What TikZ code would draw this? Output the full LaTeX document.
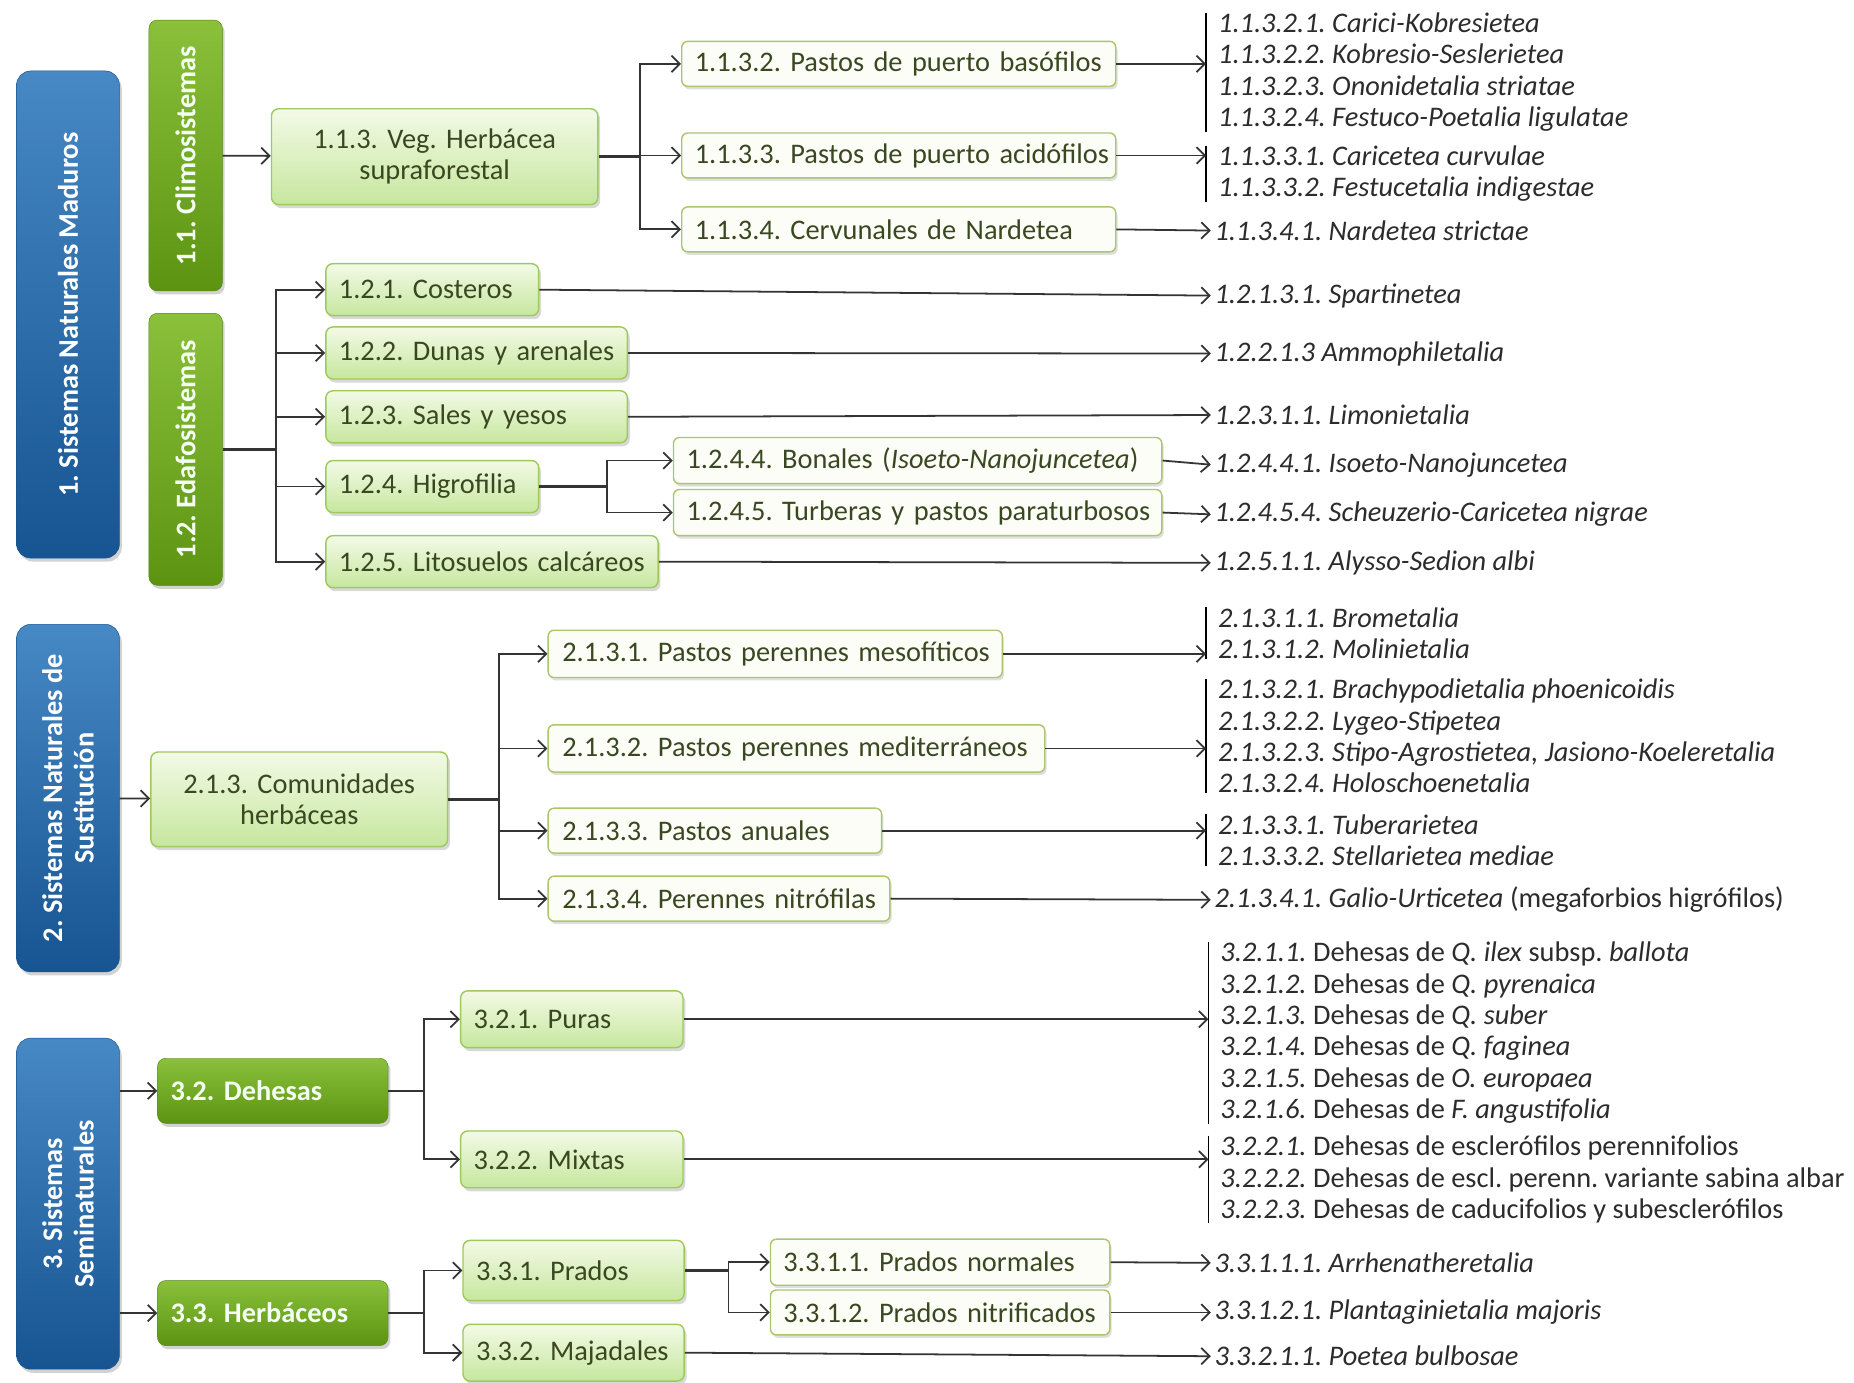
\documentclass[tikz,border=0pt]{standalone}
\usepackage{fontspec}
\setmainfont{Carlito}
\usetikzlibrary{arrows.meta,shadows}
\frenchspacing

\definecolor{sysblue}{RGB}{38,116,186}
\definecolor{sysbluedark}{RGB}{22,84,146}
\definecolor{grndarktop}{RGB}{138,192,58}
\definecolor{grndarkbot}{RGB}{92,148,18}
\definecolor{grndarkline}{RGB}{84,132,20}
\definecolor{grnlighttop}{RGB}{243,250,230}
\definecolor{grnlightbot}{RGB}{198,231,158}
\definecolor{grnlightline}{RGB}{158,202,92}
\definecolor{leaffill}{RGB}{252,253,246}
\definecolor{leafline}{RGB}{172,198,108}
\definecolor{boxtext}{RGB}{58,72,34}
\definecolor{taxtext}{RGB}{44,44,44}
\definecolor{linecol}{RGB}{52,52,52}

\newcommand\diafont{\fontsize{24}{26.5}\selectfont}

\begin{document}
\begin{tikzpicture}[x=1pt, y=-1pt, >={Straight Barb[length=7pt,width=14pt]},
    sys box/.style={rotate=90, draw=sysbluedark, top color=sysblue!85!white, bottom color=sysbluedark,
        rounded corners=12pt, font=\diafont\bfseries, text=white, align=center, minimum height=87pt,
        drop shadow={shadow xshift=2pt, shadow yshift=-3pt, opacity=0.35}},
    dark box/.style={draw=grndarkline, top color=grndarktop, bottom color=grndarkbot, rounded corners=7pt,
        font=\diafont\bfseries, text=green!4!white, inner xsep=11pt, align=left,
        drop shadow={shadow xshift=2pt, shadow yshift=-3pt, opacity=0.35}},
    one line/.style={execute at begin node=\hbox\bgroup, execute at end node=\egroup},
    light/.style={draw=grnlightline, line width=1.2pt, top color=grnlighttop, bottom color=grnlightbot,
        rounded corners=6pt, text=boxtext, inner xsep=11pt, anchor=west,
        drop shadow={shadow xshift=2pt, shadow yshift=-3pt, opacity=0.3}},
    light box/.style={light, align=left, one line},
    leaf box/.style={draw=leafline, line width=1.2pt, fill=leaffill, rounded corners=5pt, text=boxtext,
        inner xsep=11pt, align=left, anchor=west, one line,
        drop shadow={shadow xshift=1.5pt, shadow yshift=-2.5pt, opacity=0.25}},
    taxa group/.style={anchor=west, inner xsep=10pt, inner ysep=0pt, align=left, text=taxtext, font=\diafont\itshape},
    taxon/.style={anchor=west, inner xsep=3pt, inner ysep=0pt, text=taxtext, font=\diafont\itshape},
    arr/.style={->, draw=linecol, line width=1.5pt},
    trunk/.style={draw=linecol, line width=2.8pt},
    bracket/.style={draw=black, line width=1.2pt}]
    \tikzstyle{every node}=[font=\diafont]

    \fill[white] (0,0) rectangle (1568,1169);
    \useasboundingbox (0,0) rectangle (1568,1169);

    % sistemas
    \node[sys box, minimum width=412pt] (sys1) at (57.5,266) {1. Sistemas Naturales Maduros};
    \node[sys box, minimum width=294pt] (sys2) at (57.5,675) {2. Sistemas Naturales de\\Sustitución};
    \node[sys box, minimum width=280pt] (sys3) at (57.5,1018) {3. Sistemas\\Seminaturales};

    \node[dark box, rotate=90, align=center, minimum width=229pt, minimum height=62pt] (climo) at (157,131.5) {1.1. Climosistemas};
    \node[dark box, rotate=90, align=center, minimum width=230pt, minimum height=62pt] (edafo) at (157,380) {1.2. Edafosistemas};
    \node[dark box, anchor=west, text width=173pt, minimum height=55pt] (dehesas) at (133,922.5) {3.2. Dehesas};
    \node[dark box, anchor=west, text width=173pt, minimum height=55pt] (herbaceos) at (133,1110.5) {3.3. Herbáceos};

    % 1.1
    \node[light, align=center, text width=254pt, minimum height=81pt] (veg) at (229,132.5) {1.1.3. Veg. Herbácea\\supraforestal};
    \node[leaf box, text width=345pt, minimum height=38pt] (b1132) at (576,54) {1.1.3.2. Pastos de puerto basófilos};
    \node[leaf box, text width=345pt, minimum height=38pt] (b1133) at (576,131.5) {1.1.3.3. Pastos de puerto acidófilos};
    \node[leaf box, text width=345pt, minimum height=38pt] (b1134) at (576,194) {1.1.3.4. Cervunales de Nardetea};

    % 1.2
    \node[light box, text width=158pt, minimum height=44pt] (costeros) at (275,245) {1.2.1. Costeros};
    \node[light box, text width=233pt, minimum height=44pt] (dunas) at (275,298.5) {1.2.2. Dunas y arenales};
    \node[light box, text width=233pt, minimum height=44pt] (sales) at (275,352.5) {1.2.3. Sales y yesos};
    \node[light box, text width=158pt, minimum height=44pt] (higro) at (275,411.5) {1.2.4. Higrofilia};
    \node[light box, text width=259pt, minimum height=44pt] (lito) at (275,475) {1.2.5. Litosuelos calcáreos};
    \node[leaf box, text width=391pt, minimum height=39pt] (bonales) at (569,389.5) {1.2.4.4. Bonales (\textit{Isoeto-Nanojuncetea})};
    \node[leaf box, text width=391pt, minimum height=39pt] (turberas) at (569,433.5) {1.2.4.5. Turberas y pastos paraturbosos};

    % 2.1
    \node[light, align=center, text width=229pt, minimum height=80pt] (comun) at (127,676) {2.1.3. Comunidades\\herbáceas};
    \node[leaf box, text width=360pt, inner xsep=12pt, minimum height=40pt] (b2131) at (463,553) {2.1.3.1. Pastos perennes mesofíticos};
    \node[leaf box, text width=396pt, inner xsep=12pt, minimum height=40pt] (b2132) at (463,633) {2.1.3.2. Pastos perennes mediterráneos};
    \node[leaf box, text width=258pt, inner xsep=12pt, minimum height=38pt] (b2133) at (463,702.5) {2.1.3.3. Pastos anuales};
    \node[leaf box, text width=265pt, inner xsep=12pt, minimum height=38pt] (b2134) at (463,760) {2.1.3.4. Perennes nitrófilas};

    % 3.2 y 3.3
    \node[light box, text width=166pt, minimum height=48pt] (puras) at (389,862) {3.2.1. Puras};
    \node[light box, text width=166pt, minimum height=48pt] (mixtas) at (389,980.5) {3.2.2. Mixtas};
    \node[light box, text width=165pt, minimum height=51pt] (prados) at (391,1074.5) {3.3.1. Prados};
    \node[light box, text width=165pt, minimum height=48pt] (majadales) at (391,1144) {3.3.2. Majadales};
    \node[leaf box, text width=265pt, minimum height=39pt] (normales) at (651,1067.5) {3.3.1.1. Prados normales};
    \node[leaf box, text width=265pt, minimum height=38pt] (nitrif) at (651,1110) {3.3.1.2. Prados nitrificados};

    % sintaxones
    \node[taxa group] (t1132) at (1020,61) {1.1.3.2.1. Carici-Kobresietea\\1.1.3.2.2. Kobresio-Seslerietea\\1.1.3.2.3. Ononidetalia striatae\\1.1.3.2.4. Festuco-Poetalia ligulatae};
    \node[taxa group] (t1133) at (1020,147) {1.1.3.3.1. Caricetea curvulae\\1.1.3.3.2. Festucetalia indigestae};
    \node[taxon] (t1134) at (1024,195) {1.1.3.4.1. Nardetea strictae};
    \node[taxon] (t1213) at (1024,250) {1.2.1.3.1. Spartinetea};
    \node[taxon] (t1221) at (1024,299) {1.2.2.1.3 Ammophiletalia};
    \node[taxon] (t1231) at (1024,351) {1.2.3.1.1. Limonietalia};
    \node[taxon] (t1244) at (1024,393) {1.2.4.4.1. Isoeto-Nanojuncetea};
    \node[taxon] (t1245) at (1024,435) {1.2.4.5.4. Scheuzerio-Caricetea nigrae};
    \node[taxon] (t1251) at (1024,476) {1.2.5.1.1. Alysso-Sedion albi};
    \node[taxa group] (t2131) at (1020,535.5) {2.1.3.1.1. Brometalia\\2.1.3.1.2. Molinietalia};
    \node[taxa group] (t2132) at (1020,622.5) {2.1.3.2.1. Brachypodietalia phoenicoidis\\2.1.3.2.2. Lygeo-Stipetea\\2.1.3.2.3. Stipo-Agrostietea, Jasiono-Koeleretalia\\2.1.3.2.4. Holoschoenetalia};
    \node[taxa group] (t2133) at (1020,710.5) {2.1.3.3.1. Tuberarietea\\2.1.3.3.2. Stellarietea mediae};
    \node[taxon] (t2134) at (1024,761) {2.1.3.4.1. Galio-Urticetea \textup{(megaforbios higrófilos)}};
    \node[taxa group] (t321) at (1022,873.5) {3.2.1.1. \textup{Dehesas de} Q. ilex \textup{subsp.} ballota\\
        3.2.1.2. \textup{Dehesas de} Q. pyrenaica\\3.2.1.3. \textup{Dehesas de} Q. suber\\
        3.2.1.4. \textup{Dehesas de} Q. faginea\\3.2.1.5. \textup{Dehesas de} O. europaea\\
        3.2.1.6. \textup{Dehesas de} F. angustifolia};
    \node[taxa group] (t322) at (1022,997.5) {3.2.2.1. \textup{Dehesas de esclerófilos perennifolios}\\
        3.2.2.2. \textup{Dehesas de escl. perenn. variante sabina albar}\\
        3.2.2.3. \textup{Dehesas de caducifolios y subesclerófilos}};
    \node[taxon] (t3311) at (1024,1068) {3.3.1.1.1. Arrhenatheretalia};
    \node[taxon] (t3312) at (1024,1110) {3.3.1.2.1. Plantaginietalia majoris};
    \node[taxon] (t3321) at (1024,1147) {3.3.2.1.1. Poetea bulbosae};

    \foreach \t in {t1132,t1133,t2131,t2132,t2133,t321,t322}
        \draw[bracket] (\t.north west) -- (\t.south west);

    % uniones
    \coordinate (j113) at ([xshift=35pt]veg.east);
    \coordinate (j12) at ([xshift=45pt]edafo.south);
    \coordinate (j124) at ([xshift=57pt]higro.east);
    \coordinate (j213) at ([xshift=43pt]comun.east);
    \coordinate (j32) at ([xshift=30pt]dehesas.east);
    \coordinate (j33) at ([xshift=30pt]herbaceos.east);
    \coordinate (j331) at ([xshift=37pt]prados.east);

    \draw[arr] (climo) -- (veg);
    \draw[arr] (sys2) -- (comun);
    \draw[arr] (sys3.south |- dehesas.west) -- (dehesas.west);
    \draw[arr] (sys3.south |- herbaceos.west) -- (herbaceos.west);

    \draw[trunk] (veg.east) -- (j113);
    \draw[trunk] (edafo.south) -- (j12);
    \draw[trunk] (higro.east) -- (j124);
    \draw[trunk] (comun.east) -- (j213);
    \draw[trunk, line width=2pt] (dehesas.east) -- (j32);
    \draw[trunk, line width=2pt] (herbaceos.east) -- (j33);
    \draw[trunk] (prados.east) -- (j331);

    \foreach \b in {b1132,b1133,b1134} \draw[arr] (j113) |- (\b.west);
    \foreach \b in {costeros,dunas,sales,higro,lito} \draw[arr] (j12) |- (\b.west);
    \foreach \b in {bonales,turberas} \draw[arr] (j124) |- (\b.west);
    \foreach \b in {b2131,b2132,b2133,b2134} \draw[arr] (j213) |- (\b.west);
    \foreach \b in {puras,mixtas} \draw[arr] (j32) |- (\b.west);
    \foreach \b in {prados,majadales} \draw[arr] (j33) |- (\b.west);
    \foreach \b in {normales,nitrif} \draw[arr] (j331) |- (\b.west);

    % a los sintaxones
    \draw[arr] (b1132.east) -- (b1132.east -| t1132.west);
    \draw[arr] (b1133.east) -- (b1133.east -| t1133.west);
    \draw[arr] (b1134.east) -- (t1134.west);
    \draw[arr] (costeros.east) -- (t1213.west);
    \draw[arr] (dunas.east) -- (t1221.west);
    \draw[arr] (sales.east) -- (t1231.west);
    \draw[arr] (bonales.east) -- (t1244.west);
    \draw[arr] (turberas.east) -- (t1245.west);
    \draw[arr] (lito.east) -- (t1251.west);
    \draw[arr] (b2131.east) -- (b2131.east -| t2131.west);
    \draw[arr] (b2132.east) -- (b2132.east -| t2132.west);
    \draw[arr] (b2133.east) -- (b2133.east -| t2133.west);
    \draw[arr] (b2134.east) -- (t2134.west);
    \draw[arr] (puras.east) -- (puras.east -| t321.west);
    \draw[arr] (mixtas.east) -- (mixtas.east -| t322.west);
    \draw[arr] (normales.east) -- (t3311.west);
    \draw[arr] (nitrif.east) -- (t3312.west);
    \draw[arr] (majadales.east) -- (t3321.west);
\end{tikzpicture}
\end{document}
